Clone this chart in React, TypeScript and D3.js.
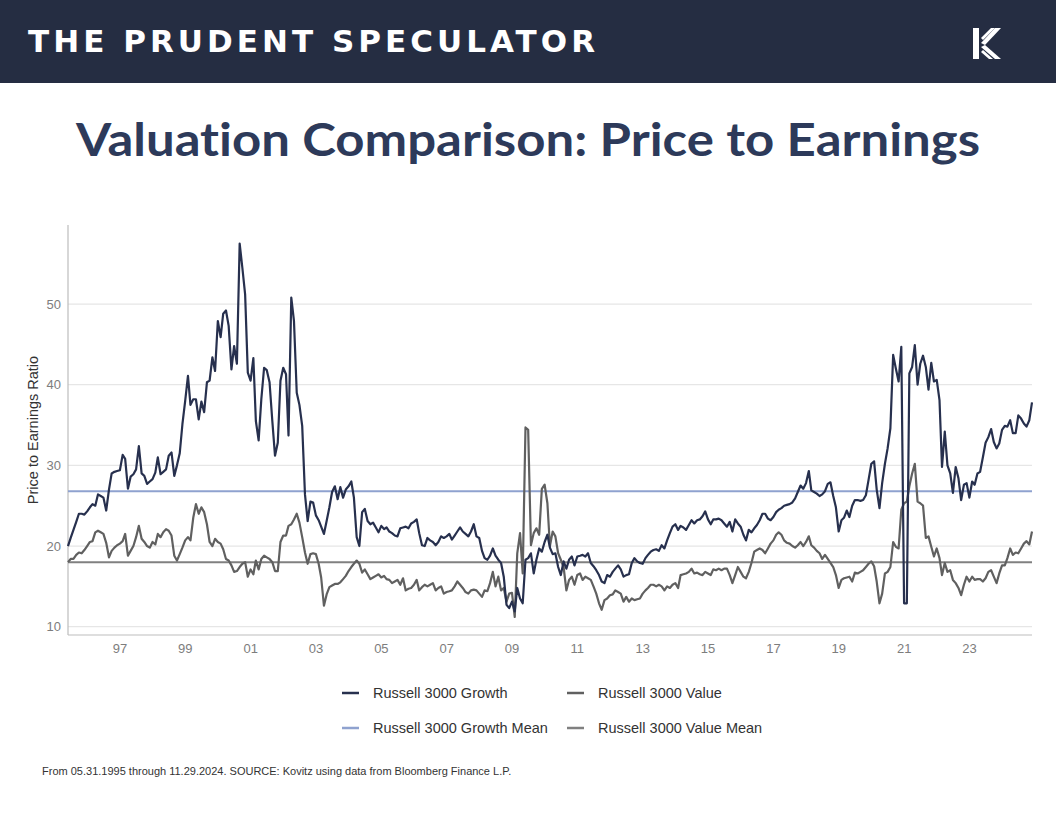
import React from 'react';
import * as d3 from 'd3';

// Monthly month-end P/E readings, May 1995 .. Nov 2024
const growthPE: number[] = [
  // 1995 (May-Dec)
  20.0, 21.0, 22.0, 23.0, 24.0, 24.0, 23.9, 24.3,
  // 1996
  24.8, 25.2, 25.0, 26.4, 26.2, 26.0, 24.4, 27.0, 29.0, 29.2, 29.3, 29.4,
  // 1997
  31.3, 30.8, 27.1, 28.6, 28.9, 29.5, 32.4, 29.0, 28.7, 27.7, 28.0, 28.3,
  // 1998
  29.1, 31.0, 28.9, 29.2, 29.5, 31.2, 31.6, 28.7, 30.0, 31.5, 35.1, 38.0,
  // 1999
  41.1, 37.5, 38.2, 38.2, 35.7, 37.9, 36.6, 40.3, 40.5, 43.4, 41.7, 47.9,
  // 2000
  45.9, 48.8, 49.2, 47.3, 41.9, 44.8, 42.6, 57.5, 54.5, 51.2, 41.5, 40.5,
  // 2001
  43.3, 35.5, 33.1, 38.2, 42.1, 41.8, 40.3, 35.5, 31.2, 32.8, 40.5, 42.1,
  // 2002
  41.3, 33.7, 50.8, 47.9, 39.0, 37.5, 34.9, 26.4, 23.1, 25.5, 25.4, 23.8,
  // 2003
  23.2, 22.4, 21.5, 23.1, 24.8, 26.7, 27.4, 25.8, 27.3, 26.0, 27.0, 27.4,
  // 2004
  28.0, 26.0, 21.1, 20.0, 24.2, 24.6, 23.1, 22.7, 22.9, 22.3, 21.7, 22.5,
  // 2005
  22.1, 22.3, 21.8, 21.6, 21.3, 21.2, 22.2, 22.3, 22.4, 22.2, 22.8, 23.0,
  // 2006
  23.3, 21.6, 20.1, 20.0, 21.0, 20.7, 20.5, 20.1, 20.5, 21.2, 21.0, 21.2,
  // 2007
  21.5, 20.8, 21.3, 21.8, 22.3, 21.8, 21.5, 21.2, 21.8, 22.7, 21.2, 21.0,
  // 2008
  19.4, 18.5, 18.3, 18.8, 19.7, 18.8, 18.3, 17.9, 16.2, 12.7, 12.3, 13.1,
  // 2009
  11.9, 14.8, 13.5, 12.9, 18.3, 18.5, 19.1, 16.6, 18.3, 19.7, 19.3, 20.5,
  // 2010
  21.4, 19.8, 19.0, 19.1, 17.4, 16.4, 18.1, 17.2, 18.3, 18.7, 17.6, 18.7,
  // 2011
  18.8, 18.9, 18.7, 19.1, 17.9, 17.5, 17.0, 16.4, 15.6, 15.4, 16.4, 16.2,
  // 2012
  16.8, 17.2, 17.6, 17.1, 16.2, 16.4, 16.5, 17.9, 18.5, 18.1, 17.9, 17.8,
  // 2013
  18.5, 18.9, 19.3, 19.5, 19.6, 19.4, 20.1, 19.7, 20.7, 21.6, 22.4, 22.7,
  // 2014
  22.0, 22.5, 22.3, 22.0, 22.6, 23.2, 22.8, 23.2, 23.3, 23.7, 24.3, 23.3,
  // 2015
  22.7, 23.3, 23.3, 23.4, 23.2, 22.8, 22.4, 23.0, 21.8, 23.3, 22.8, 22.4,
  // 2016
  21.4, 20.7, 22.0, 21.7, 22.2, 22.6, 23.2, 24.0, 24.0, 23.4, 23.2, 23.6,
  // 2017
  24.2, 24.5, 24.7, 25.0, 25.1, 25.2, 25.4, 25.9, 26.7, 27.5, 27.1, 27.8,
  // 2018
  29.3, 26.9, 26.7, 26.5, 26.2, 26.4, 26.8, 27.7, 27.9, 26.2, 24.8, 21.8,
  // 2019
  23.2, 23.5, 24.4, 23.6, 25.0, 25.7, 25.7, 25.6, 25.7, 26.3, 28.2, 30.2,
  // 2020
  30.5, 27.0, 24.7, 27.8, 30.2, 32.1, 34.6, 43.7, 42.0, 40.4, 44.7, 12.9,
  // 2021
  12.9, 41.4, 42.2, 44.9, 40.0, 42.6, 43.6, 42.2, 39.4, 42.7, 40.4, 40.6,
  // 2022
  38.1, 29.8, 34.2, 30.0, 29.0, 26.6, 29.8, 28.4, 25.7, 27.6, 27.8, 26.0,
  // 2023
  28.0, 27.6, 29.0, 29.2, 31.0, 32.8, 33.5, 34.5, 32.9, 32.1, 32.7, 34.4,
  // 2024 (Jan-Nov)
  34.9, 34.8, 35.6, 34.0, 34.0, 36.2, 35.8, 35.2, 34.8, 35.6, 37.8,
];

const valuePE: number[] = [
  // 1995 (May-Dec)
  18.0, 18.4, 18.4, 18.9, 19.2, 19.1, 19.5, 20.0,
  // 1996
  20.5, 20.6, 21.7, 21.9, 21.7, 21.5, 20.4, 18.6, 19.4, 19.8, 20.1, 20.3,
  // 1997
  20.6, 21.5, 18.8, 19.4, 20.0, 21.1, 22.5, 20.9, 20.5, 20.0, 19.8, 20.5,
  // 1998
  20.2, 21.5, 21.1, 21.7, 22.1, 21.9, 21.3, 18.8, 18.2, 19.0, 19.8, 20.7,
  // 1999
  21.1, 20.7, 23.5, 25.2, 24.0, 24.8, 24.2, 22.7, 20.5, 20.0, 20.9, 20.5,
  // 2000
  20.3, 19.6, 18.4, 18.2, 17.6, 16.8, 16.9, 17.4, 17.8, 18.0, 16.2, 17.1,
  // 2001
  16.5, 18.2, 17.1, 18.4, 18.8, 18.6, 18.4, 18.0, 16.9, 16.9, 20.5, 21.3,
  // 2002
  21.3, 22.5, 22.7, 23.3, 24.0, 22.9, 21.1, 19.2, 17.8, 19.0, 19.1, 19.0,
  // 2003
  17.8, 16.1, 12.6, 14.0, 14.9, 15.1, 15.3, 15.3, 15.5, 15.9, 16.3, 16.9,
  // 2004
  17.4, 17.8, 18.2, 17.8, 16.7, 17.1, 16.5, 15.9, 16.1, 16.3, 16.5, 16.1,
  // 2005
  16.3, 15.9, 15.8, 15.4, 15.6, 15.8, 15.2, 16.0, 14.5, 14.7, 14.8, 15.2,
  // 2006
  15.8, 14.5, 14.9, 15.2, 15.0, 15.2, 15.4, 14.5, 14.8, 15.0, 14.1, 14.3,
  // 2007
  14.4, 14.5, 15.0, 15.6, 15.2, 14.8, 14.3, 14.1, 14.5, 14.6, 14.5, 14.1,
  // 2008
  13.7, 14.5, 14.4, 15.4, 16.8, 15.0, 16.2, 14.5, 14.8, 13.1, 14.1, 14.2,
  // 2009
  11.2, 19.1, 21.6, 16.6, 34.7, 34.4, 20.1, 21.6, 22.2, 21.4, 27.1, 27.6,
  // 2010
  25.3, 20.0, 21.8, 21.2, 19.1, 18.3, 17.4, 14.5, 15.8, 16.2, 15.2, 16.4,
  // 2011
  16.6, 15.8, 16.2, 16.0, 15.8, 15.0, 14.1, 12.9, 12.1, 13.3, 13.5, 13.9,
  // 2012
  14.0, 14.5, 14.3, 14.1, 13.1, 13.7, 13.1, 13.5, 13.3, 13.4, 13.5, 14.1,
  // 2013
  14.5, 14.8, 15.2, 15.2, 15.0, 15.2, 15.0, 14.5, 15.0, 14.8, 15.2, 15.4,
  // 2014
  14.8, 16.4, 16.5, 16.6, 16.8, 17.2, 16.6, 16.7, 16.5, 16.4, 16.8, 16.6,
  // 2015
  16.4, 17.1, 17.0, 17.2, 17.0, 17.2, 17.2, 16.4, 15.4, 16.4, 17.4, 16.8,
  // 2016
  16.2, 16.0, 16.8, 17.9, 19.3, 19.5, 19.7, 19.5, 19.1, 19.7, 20.3, 20.7,
  // 2017
  21.4, 21.7, 21.4, 20.7, 20.4, 20.3, 20.0, 19.8, 20.1, 20.5, 20.0, 20.5,
  // 2018
  21.2, 20.1, 19.8, 19.4, 19.1, 18.4, 18.9, 18.4, 17.9, 17.4, 16.4, 14.8,
  // 2019
  15.8, 16.0, 16.1, 16.2, 15.6, 16.7, 16.6, 16.8, 17.0, 17.4, 17.8, 18.1,
  // 2020
  17.5, 15.6, 12.9, 14.1, 16.6, 16.8, 17.4, 20.5, 19.9, 19.7, 24.5, 25.3,
  // 2021
  25.5, 27.4, 29.0, 30.2, 25.5, 25.3, 25.0, 21.0, 21.2, 19.9, 18.7, 19.7,
  // 2022
  18.5, 16.4, 17.9, 16.8, 17.0, 15.8, 15.4, 14.8, 13.9, 15.2, 16.2, 15.6,
  // 2023
  16.2, 15.8, 15.9, 15.9, 15.6, 16.0, 16.8, 17.0, 16.2, 15.4, 16.6, 17.6,
  // 2024 (Jan-Nov)
  17.6, 18.5, 19.7, 18.9, 19.2, 19.1, 19.7, 20.3, 20.6, 20.2, 21.8,
];

const growthMean = 26.8;
const valueMean = 18.0;

const yTicks = [10, 20, 30, 40, 50];
const xTickYears = [1997, 1999, 2001, 2003, 2005, 2007, 2009, 2011, 2013, 2015, 2017, 2019, 2021, 2023];

const COLORS = {
  growth: '#27304e',
  value: '#606060',
  growthMean: '#8fa2cf',
  valueMean: '#808080',
};

const legendItems = [
  { label: 'Russell 3000 Growth', color: COLORS.growth },
  { label: 'Russell 3000 Value', color: COLORS.value },
  { label: 'Russell 3000 Growth Mean', color: COLORS.growthMean },
  { label: 'Russell 3000 Value Mean', color: COLORS.valueMean },
];

const W = 1056;
const H = 816;
const PLOT = { left: 68, right: 1032, top: 225, bottom: 635 };
const SANS = "'Liberation Sans', Arial, sans-serif";

export default function App() {
  const dates = growthPE.map((_, i) => new Date(1995, 5 + i, 0));
  const x = d3.scaleTime().domain([dates[0], dates[dates.length - 1]]).range([PLOT.left, PLOT.right]);
  const y = d3.scaleLinear().domain([8.97, 59.8]).range([PLOT.bottom, PLOT.top]);

  const line = d3
    .line<number>()
    .x((_, i) => x(dates[i]))
    .y((d) => y(d));

  const legendCols = [342, 567];
  const legendRows = [693, 728];

  return (
    <svg
      width={W}
      height={H}
      viewBox={`0 0 ${W} ${H}`}
      style={{ position: 'absolute', left: 0, top: 0, background: '#ffffff' }}
    >
      <rect x={0} y={0} width={W} height={H} fill="#ffffff" />
      {/* header band */}
      <rect x={0} y={0} width={W} height={83} fill="#252d42" />
      <text
        x={28}
        y={52}
        fill="#ffffff"
        fontFamily="'DejaVu Sans', Lato, sans-serif"
        fontWeight={700}
        fontSize={31}
        textLength={567}
        lengthAdjust="spacing"
      >
        THE PRUDENT SPECULATOR
      </text>
      {/* logo */}
      <g fill="#ffffff">
        <polygon points="973,28 979,28 979,59 973,59" />
        <polygon points="981,43 995,28 1001,28 985,45" />
        <polygon points="981,38 991,28 995,28 983,40" />
        <polygon points="985,45 1001,59 995,59 981,47" />
        <polygon points="983,50 993,59 989,59 981,52" />
      </g>

      {/* title */}
      <text
        x={528}
        y={156}
        textAnchor="middle"
        fill="#2d3a5a"
        fontFamily="Lato, 'Open Sans', sans-serif"
        fontWeight={700}
        fontSize={45}
        textLength={904}
        lengthAdjust="spacingAndGlyphs"
        style={{ fontVariantLigatures: 'none' }}
      >
        Valuation Comparison: Price to Earnings
      </text>

      {/* gridlines */}
      {yTicks.map((t) => (
        <line key={`g${t}`} x1={PLOT.left} x2={PLOT.right} y1={y(t)} y2={y(t)} stroke="#e6e6e6" strokeWidth={1.2} />
      ))}
      {/* axes */}
      <line x1={PLOT.left} x2={PLOT.left} y1={PLOT.top} y2={PLOT.bottom} stroke="#bdbdbd" strokeWidth={1.2} />
      <line x1={PLOT.left} x2={PLOT.right} y1={PLOT.bottom} y2={PLOT.bottom} stroke="#bdbdbd" strokeWidth={1.2} />

      {/* y tick labels */}
      {yTicks.map((t) => (
        <text
          key={`yl${t}`}
          x={61}
          y={y(t)}
          textAnchor="end"
          dominantBaseline="central"
          fill="#7d7d7d"
          fontFamily={SANS}
          fontSize={13}
        >
          {t}
        </text>
      ))}
      {/* x tick labels */}
      {xTickYears.map((yr) => (
        <text
          key={`xl${yr}`}
          x={x(new Date(yr, 0, 1))}
          y={648}
          textAnchor="middle"
          dominantBaseline="central"
          fill="#7d7d7d"
          fontFamily={SANS}
          fontSize={13}
        >
          {String(yr % 100).padStart(2, '0')}
        </text>
      ))}

      {/* y axis title */}
      <text
        transform="translate(38,430) rotate(-90)"
        textAnchor="middle"
        fill="#333333"
        fontFamily={SANS}
        fontSize={14.5}
      >
        Price to Earnings Ratio
      </text>

      {/* mean lines */}
      <line x1={PLOT.left} x2={PLOT.right} y1={y(growthMean)} y2={y(growthMean)} stroke={COLORS.growthMean} strokeWidth={2} />
      <line x1={PLOT.left} x2={PLOT.right} y1={y(valueMean)} y2={y(valueMean)} stroke={COLORS.valueMean} strokeWidth={2} />

      {/* series */}
      <path d={line(valuePE) || ''} fill="none" stroke={COLORS.value} strokeWidth={2.2} strokeLinejoin="round" />
      <path d={line(growthPE) || ''} fill="none" stroke={COLORS.growth} strokeWidth={2.2} strokeLinejoin="round" />

      {/* legend */}
      {legendItems.map((item, k) => {
        const cx = legendCols[k % 2];
        const cy = legendRows[Math.floor(k / 2)];
        return (
          <g key={item.label}>
            <line x1={cx} x2={cx + 17} y1={cy} y2={cy} stroke={item.color} strokeWidth={2.5} />
            <text
              x={cx + 31}
              y={cy}
              dominantBaseline="central"
              fill="#333333"
              fontFamily={SANS}
              fontSize={14.5}
            >
              {item.label}
            </text>
          </g>
        );
      })}

      {/* footer */}
      <text x={42} y={775} fill="#333333" fontFamily={SANS} fontSize={11}>
        From 05.31.1995 through 11.29.2024. SOURCE: Kovitz using data from Bloomberg Finance L.P.
      </text>
    </svg>
  );
}
